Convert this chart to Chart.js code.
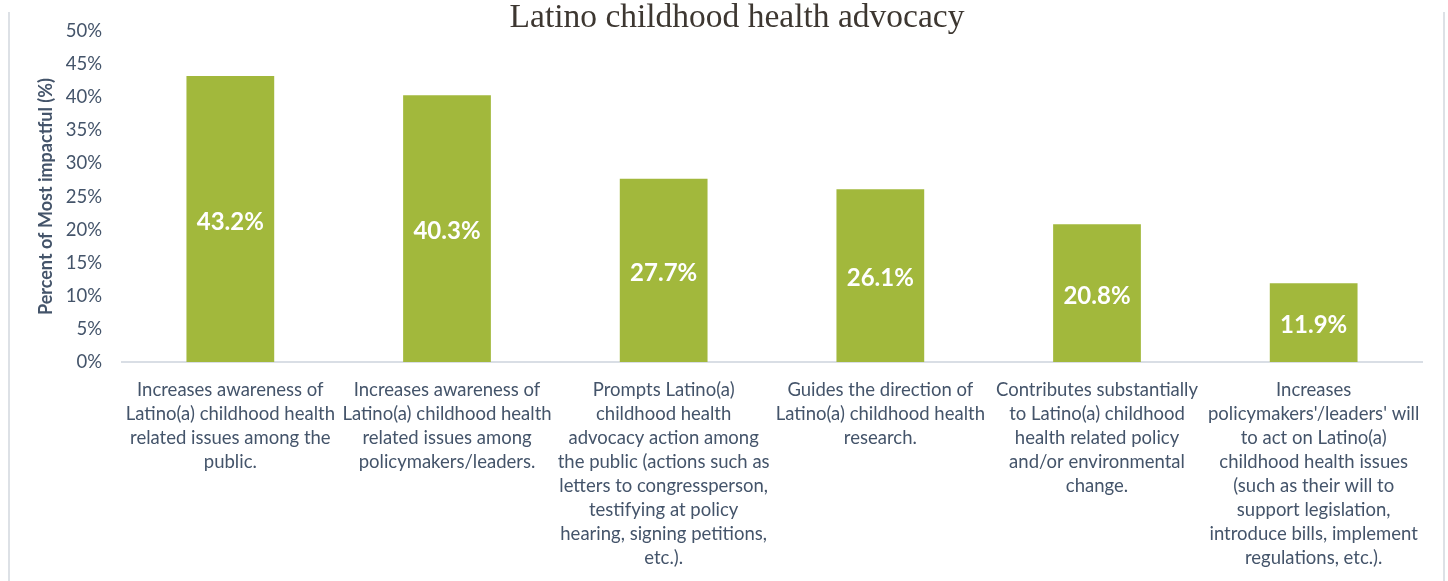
<!DOCTYPE html>
<html>
<head>
<meta charset="utf-8">
<script src="https://cdn.jsdelivr.net/npm/chart.js@4/dist/chart.umd.min.js"></script>
<style>
  html, body { margin: 0; padding: 0; background: #ffffff; }
  #wrap { width: 1448px; height: 581px; position: relative; }
</style>
</head>
<body>
<div id="wrap"><canvas id="advocacy_chart"></canvas></div>
<script>
const categories = [
    ["Increases awareness of", "Latino(a) childhood health", "related issues among the", "public."],
    ["Increases awareness of", "Latino(a) childhood health", "related issues among", "policymakers/leaders."],
    ["Prompts Latino(a)", "childhood health", "advocacy action among", "the public (actions such as", "letters to congressperson,", "testifying at policy", "hearing, signing petitions,", "etc.)."],
    ["Guides the direction of", "Latino(a) childhood health", "research."],
    ["Contributes substantially", "to Latino(a) childhood", "health related policy", "and/or environmental", "change."],
    ["Increases", "policymakers'/leaders' will", "to act on Latino(a)", "childhood health issues", "(such as their will to", "support legislation,", "introduce bills, implement", "regulations, etc.)."]
];
const most_impactful = [43.2, 40.3, 27.7, 26.1, 20.8, 11.9];
const y_ticks = [0, 5, 10, 15, 20, 25, 30, 35, 40, 45, 50];

const textColor = "#44546a";
const barColor = "#a2b83c";

// value labels in the middle of each bar
const barLabels = {
    id: "barLabels",
    afterDatasetsDraw(chart) {
        const ctx = chart.ctx;
        const meta = chart.getDatasetMeta(0);
        ctx.save();
        ctx.font = "bold 24px Lato";
        ctx.fillStyle = "#ffffff";
        ctx.textAlign = "center";
        ctx.textBaseline = "middle";
        meta.data.forEach((bar, i) => {
            const v = chart.data.datasets[0].data[i];
            ctx.fillText(v.toFixed(1) + "%", bar.x, (bar.y + bar.base) / 2 + 3);
        });
        ctx.restore();
    }
};

// thin frame lines on the sides and a shifted title box
const frame = {
    id: "frame",
    afterLayout(chart) {
        if (chart.titleBlock) chart.titleBlock.left = 52;
    },
    beforeDraw(chart) {
        const ctx = chart.ctx;
        ctx.save();
        ctx.strokeStyle = "#dde1e6";
        ctx.lineWidth = 2;
        ctx.beginPath();
        ctx.moveTo(9, 12);
        ctx.lineTo(9, 581);
        ctx.moveTo(1444, 12);
        ctx.lineTo(1444, 581);
        ctx.stroke();
        ctx.restore();
    }
};

new Chart("advocacy_chart", {
    type: "bar",
    data: {
        labels: categories,
        datasets: [{
            data: most_impactful,
            backgroundColor: barColor,
            borderWidth: 0,
            barPercentage: 0.81,
            categoryPercentage: 0.5
        }]
    },
    options: {
        responsive: true,
        maintainAspectRatio: false,
        animation: false,
        layout: { padding: { left: 0, right: 26, top: 0, bottom: 0 } },
        plugins: {
            legend: { display: false },
            tooltip: { enabled: false },
            title: {
                display: true,
                text: "Latino childhood health advocacy",
                color: "#3d3731",
                font: { family: "Liberation Serif", size: 33.5, weight: "normal", lineHeight: 0.75 },
                padding: { top: 6, bottom: 0 }
            }
        },
        scales: {
            x: {
                grid: { display: false },
                border: { display: true, color: "#d9dee5", width: 2 },
                ticks: {
                    color: textColor,
                    font: { family: "Lato", size: 18.5, lineHeight: 1.3 },
                    padding: 8,
                    maxRotation: 0,
                    autoSkip: false
                },
                afterFit(scale) { scale.height = 219; }
            },
            y: {
                min: 0,
                max: 50,
                grid: { display: false },
                border: { display: false },
                afterBuildTicks(scale) { scale.ticks = y_ticks.map(v => ({ value: v })); },
                ticks: {
                    color: textColor,
                    font: { family: "Lato", size: 18.5 },
                    padding: 12,
                    callback: v => v + "%"
                },
                title: {
                    display: true,
                    text: "Percent of Most impactful (%)",
                    color: textColor,
                    font: { family: "Lato", size: 18, weight: "bold", lineHeight: 1.2 },
                    padding: { top: 35, bottom: 0 }
                },
                afterFit(scale) { scale.width = 122; }
            }
        }
    },
    plugins: [barLabels, frame]
});
</script>
</body>
</html>
